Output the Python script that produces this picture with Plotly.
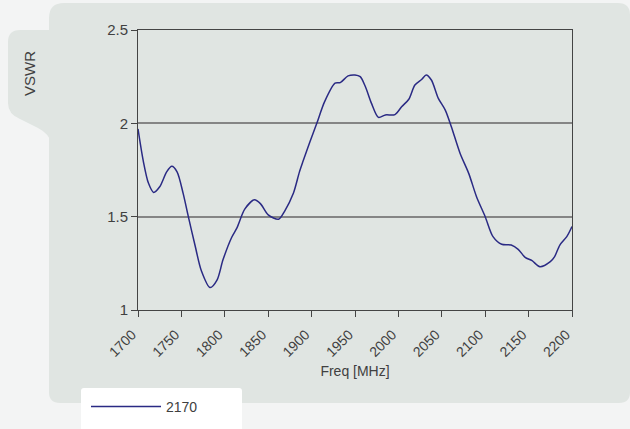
import plotly.graph_objects as go

freq_mhz = [1700, 1706, 1712, 1718, 1725, 1733, 1739, 1745, 1752, 1758, 1766, 1773, 1783,
            1791, 1798, 1808, 1814, 1823, 1834, 1841, 1850, 1862, 1869, 1879, 1886, 1890,
            1898, 1906, 1915, 1927, 1933, 1942, 1950, 1956, 1962, 1969, 1977, 1985, 1996,
            2004, 2012, 2019, 2027, 2032, 2038, 2046, 2054, 2061, 2071, 2081, 2090, 2100,
            2109, 2119, 2130, 2138, 2146, 2154, 2163, 2175, 2180, 2186, 2194, 2200]
vswr_2170 = [1.97, 1.80, 1.68, 1.63, 1.66, 1.74, 1.77, 1.74, 1.625, 1.50, 1.34, 1.21, 1.12,
             1.16, 1.27, 1.39, 1.44, 1.54, 1.59, 1.57, 1.51, 1.486, 1.53, 1.625, 1.74, 1.795,
             1.90, 2.00, 2.116, 2.215, 2.218, 2.254, 2.259, 2.25, 2.196, 2.107, 2.032, 2.045, 2.047,
             2.09, 2.129, 2.205, 2.236, 2.259, 2.232, 2.134, 2.071, 1.982, 1.84, 1.732, 1.607, 1.50,
             1.393, 1.352, 1.348, 1.325, 1.282, 1.264, 1.232, 1.259, 1.286, 1.348, 1.393, 1.447]
series_name = "2170"
x_ticks = list(range(1700, 2201, 50))
y_ticks = [1, 1.5, 2, 2.5]
y_tick_text = ["1", "1.5", "2", "2.5"]

W, H = 630, 429
L, R, T, B = 138, 572, 30, 310


def px(x):
    return (x - L) / (R - L)


def py(y):
    return (B - y) / (B - T)


def P(x, y):
    return f"{px(x):.5f},{py(y):.5f}"


# background panel (rounded)
panel = (f"M{P(49, 18)} Q{P(49, 3)} {P(64, 3)} L{P(618, 3)} Q{P(630, 3)} {P(630, 15)} "
         f"L{P(630, 392)} Q{P(630, 403)} {P(619, 403)} L{P(60, 403)} Q{P(49, 403)} {P(49, 392)} Z")
tab = (f"M{P(52, 30)} L{P(20, 30)} Q{P(8, 30)} {P(8, 42)} L{P(8, 103)} "
       f"Q{P(8, 114)} {P(20, 119)} L{P(38, 128)} Q{P(50, 134)} {P(52, 145)} Z")
legend_box = (f"M{P(81, 440)} L{P(81, 391)} Q{P(81, 388)} {P(84, 388)} L{P(239, 388)} "
              f"Q{P(242, 388)} {P(242, 391)} L{P(242, 440)} Z")

fig = go.Figure()
fig.add_trace(go.Scatter(
    x=freq_mhz, y=vswr_2170, mode="lines", name=series_name,
    line=dict(color="#2a2a84", width=1.5, shape="spline", smoothing=0.8),
))

text_col = "#404040"
shape_style = dict(xref="paper", yref="paper", layer="below", line=dict(width=0))
fig.update_layout(
    width=W, height=H,
    margin=dict(l=L, r=W - R, t=T, b=H - B, autoexpand=False),
    paper_bgcolor="#f3f4f4",
    plot_bgcolor="#ffffff",
    font=dict(family="Liberation Sans, Arial, sans-serif", size=14, color=text_col),
    shapes=[
        dict(type="path", path=panel, fillcolor="#e0e5e2", **shape_style),
        dict(type="path", path=tab, fillcolor="#e0e5e2", **shape_style),
        dict(type="path", path=legend_box, fillcolor="#ffffff", **shape_style),
    ],
    annotations=[
        dict(text="VSWR", textangle=-90, x=px(29), y=py(73), xref="paper", yref="paper",
             xanchor="center", yanchor="middle",
             showarrow=False, font=dict(size=15, color=text_col)),
    ],
    showlegend=True,
    legend=dict(x=px(86), y=py(391), xanchor="left", yanchor="top",
                bgcolor="rgba(0,0,0,0)", font=dict(size=14, color=text_col),
                itemwidth=70),
    xaxis=dict(
        range=[1700, 2200], tickvals=x_ticks, tickangle=-45,
        showgrid=False, zeroline=False,
        showline=True, linecolor="#444444", linewidth=1, mirror=True,
        ticks="outside", ticklen=6, tickcolor="#444444",
        tickfont=dict(size=14), ticklabelshift=-6, ticklabelstandoff=4,
        title=dict(text="Freq [MHz]", font=dict(size=14), standoff=7),
    ),
    yaxis=dict(
        range=[1, 2.5], tickvals=y_ticks, ticktext=y_tick_text,
        showgrid=True, gridcolor="#858585", gridwidth=1.6, zeroline=False,
        showline=True, linecolor="#444444", linewidth=1, mirror=True,
        ticks="outside", ticklen=6, tickcolor="#444444",
        tickfont=dict(size=15),
    ),
)

fig.write_html(
    "out.html",
    config={"displayModeBar": False},
    post_script="document.body.style.margin='0px';document.body.style.background='#f3f4f4';"
                "document.body.style.overflow='hidden';",
)
